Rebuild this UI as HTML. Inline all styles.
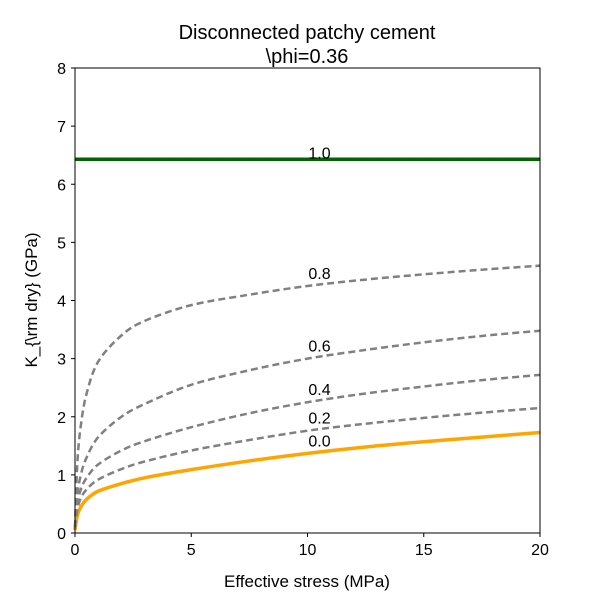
<!DOCTYPE html>
<html><head><meta charset="utf-8"><style>
body{margin:0;background:#fff}
svg text{font-family:"Liberation Sans",Arial,sans-serif;fill:#000}
</style></head><body>
<svg id="c" width="600" height="600"></svg>
<script>
const xs=[0,0.1,0.25,0.5,1,2,3,5,7.5,10,12.5,15,17.5,20];
const s00=[0.05,0.3,0.45,0.58,0.72,0.85,0.95,1.09,1.24,1.37,1.48,1.57,1.65,1.73];
const s02=[0.1,0.4,0.6,0.75,0.92,1.1,1.23,1.42,1.6,1.76,1.88,1.98,2.07,2.15];
const s04=[0.1,0.5,0.75,0.95,1.18,1.42,1.58,1.82,2.06,2.25,2.40,2.52,2.63,2.72];
const s06=[0.1,0.65,1.0,1.3,1.65,2.0,2.22,2.55,2.8,3.0,3.15,3.28,3.39,3.48];
const s08=[0.1,1.2,1.85,2.4,2.95,3.4,3.65,3.92,4.1,4.25,4.36,4.45,4.53,4.6];
const s10=[6.43,6.43,6.43,6.43,6.43,6.43,6.43,6.43,6.43,6.43,6.43,6.43,6.43,6.43];
const xTicks=[0,5,10,15,20];
const yTicks=[0,1,2,3,4,5,6,7,8];
const labelX=10;
const NS="http://www.w3.org/2000/svg";
const svg=document.getElementById('c');
const L=75,R=540,T=68,B=533;
const X=v=>L+(v-0)/20*(R-L);
const Y=v=>B-(v-0)/8*(B-T);
function el(t,a,p){const e=document.createElementNS(NS,t);for(const k in a)e.setAttribute(k,a[k]);(p||svg).appendChild(e);return e;}
function txt(x,y,s,size,anchor){const e=el('text',{x:x,y:y,'font-size':size,'text-anchor':anchor||'middle'});e.textContent=s;return e;}
function smooth(pts){
 let d='M'+pts[0][0]+','+pts[0][1];
 for(let i=0;i<pts.length-1;i++){
  const p0=pts[Math.max(0,i-1)],p1=pts[i],p2=pts[i+1],p3=pts[Math.min(pts.length-1,i+2)];
  const c1x=p1[0]+(p2[0]-p0[0])/6,c1y=p1[1]+(p2[1]-p0[1])/6;
  const c2x=p2[0]-(p3[0]-p1[0])/6,c2y=p2[1]-(p3[1]-p1[1])/6;
  d+=' C'+c1x+','+c1y+' '+c2x+','+c2y+' '+p2[0]+','+p2[1];
 }
 return d;
}
const series=[
 {v:s00,c:'#ffa500',w:3.5,d:null,l:'0.0',n:'series-0-0'},
 {v:s02,c:'#808080',w:2.5,d:'7,4',l:'0.2',n:'series-0-2'},
 {v:s04,c:'#808080',w:2.5,d:'7,4',l:'0.4',n:'series-0-4'},
 {v:s06,c:'#808080',w:2.5,d:'7,4',l:'0.6',n:'series-0-6'},
 {v:s08,c:'#808080',w:2.5,d:'7,4',l:'0.8',n:'series-0-8'},
 {v:s10,c:'#006400',w:3.5,d:null,l:'1.0',n:'series-1-0'}];
series.forEach(s=>{
 const pts=xs.map((x,i)=>[X(x),Y(s.v[i])]);
 const a={d:smooth(pts),fill:'none',stroke:s.c,'stroke-width':s.w};
 if(s.d)a['stroke-dasharray']=s.d;
 const p=el('path',a);
 
 
 const i=xs.indexOf(labelX);
 const t=txt(X(labelX)+12,Y(s.v[i])-(s.l==='1.0'?1:7),s.l,16);
 
 
});
const f=el('rect',{x:L,y:T,width:R-L,height:B-T,fill:'none',stroke:'#000','stroke-width':1});


xTicks.forEach(v=>{el('line',{x1:X(v),x2:X(v),y1:B,y2:B+4,stroke:'#000'});
 const t=txt(X(v),B+22,String(v),16);
 
 });
yTicks.forEach(v=>{el('line',{x1:L-4,x2:L,y1:Y(v),y2:Y(v),stroke:'#000'});
 const t=txt(L-9,Y(v)+6,String(v),16,'end');
 
 });
let t=txt(307,39,'Disconnected patchy cement',20);


t=txt(307,63,'\\phi=0.36',20);


t=txt(307,587,'Effective stress (MPa)',17);


t=txt(0,0,'K_{\\rm dry} (GPa)',17);
t.setAttribute('transform','translate(37,300) rotate(-90)');


</script>
</body></html>
